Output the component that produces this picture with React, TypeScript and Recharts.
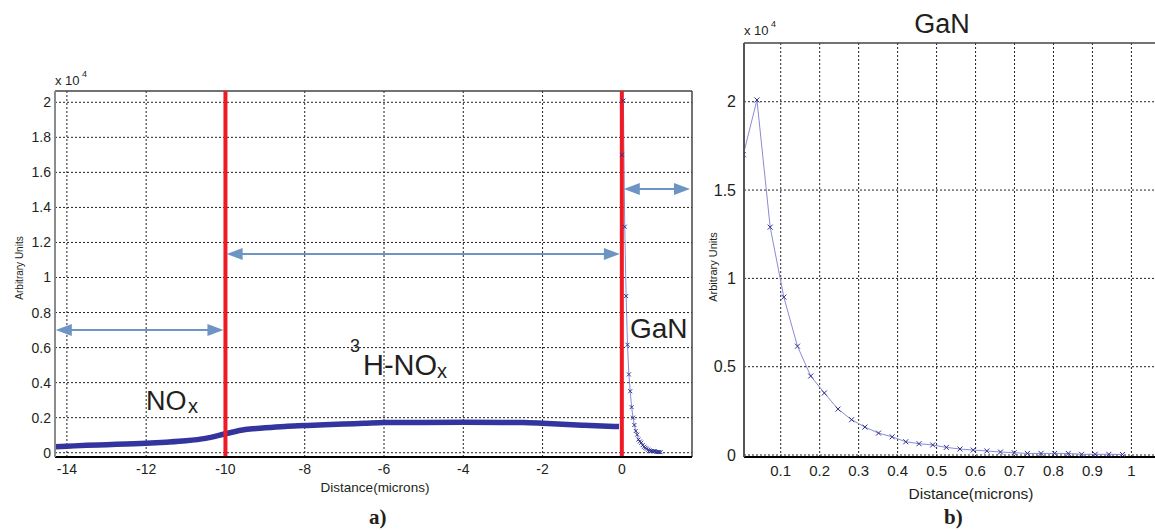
import { LineChart, Line, XAxis, YAxis, CartesianGrid, ReferenceLine } from 'recharts'

// depth profile, arbitrary units in 10^4
const bandX = [-14.3, -14, -13.5, -13, -12.5, -12, -11.5, -11, -10.5, -10, -9.5, -9, -8.5, -8, -7.5, -7, -6.5, -6, -5, -4, -3, -2.5, -2, -1.5, -1, -0.5, -0.07]
const bandY = [0.034, 0.037, 0.042, 0.046, 0.05, 0.054, 0.06, 0.068, 0.082, 0.108, 0.132, 0.142, 0.15, 0.155, 0.16, 0.164, 0.168, 0.172, 0.173, 0.174, 0.173, 0.172, 0.168, 0.163, 0.157, 0.152, 0.149]

// GaN layer, microns vs 10^4
const ganX = [0.004, 0.039, 0.073, 0.108, 0.143, 0.177, 0.212, 0.247, 0.282, 0.316, 0.351, 0.386, 0.421, 0.455, 0.49, 0.525, 0.56, 0.594, 0.629, 0.664, 0.699, 0.733, 0.768, 0.803, 0.838, 0.872, 0.907, 0.942, 0.977]
const ganY = [1.7, 2.01, 1.29, 0.894, 0.616, 0.447, 0.351, 0.26, 0.2, 0.158, 0.124, 0.103, 0.075, 0.064, 0.057, 0.043, 0.034, 0.028, 0.023, 0.017, 0.013, 0.009, 0.009, 0.009, 0.009, 0.004, 0.004, 0.004, 0.003]

const leftXTicks = [-14, -12, -10, -8, -6, -4, -2, 0]
const leftYTicks = [0, 0.2, 0.4, 0.6, 0.8, 1, 1.2, 1.4, 1.6, 1.8, 2]
const rightXTicks = [0.1, 0.2, 0.3, 0.4, 0.5, 0.6, 0.7, 0.8, 0.9, 1]
const rightYTicks = [0, 0.5, 1, 1.5, 2]

const interfaces = [-10, 0]
const arrows = [
    { x1: -14.28, x2: -10.05, y: 0.7 },
    { x1: -9.97, x2: -0.05, y: 1.134 },
    { x1: 0.05, x2: 1.72, y: 1.505 },
]

const leftXDomain = [-14.3, 1.77]
const leftYDomain = [-0.0245, 2.0645]
// right panel runs past the picture's edge
const rightXDomain = [0.0058, 1.2273]
const rightYDomain = [-0.0113, 2.3326]

const band = bandX.map((x, i) => ({ x, y: bandY[i] }))
const gan = ganX.map((x, i) => ({ x, y: ganY[i] }))

const FONT = '"Liberation Sans", Arial, sans-serif'
const INK = '#231f20'
const ARROW = '#6c94c4'
const GRID = '#222'

const arrowShape = (p: any) => {
    const { x1, y1, x2, y2 } = p
    const h = 16, w = 6
    return (
        <g>
            <line x1={x1 + h - 2} y1={y1} x2={x2 - h + 2} y2={y2} stroke={ARROW} strokeWidth={2} />
            <polygon points={`${x1},${y1} ${x1 + h},${y1 - w} ${x1 + h},${y1 + w}`} fill={ARROW} />
            <polygon points={`${x2},${y2} ${x2 - h},${y2 - w} ${x2 - h},${y2 + w}`} fill={ARROW} />
        </g>
    )
}

const cross = (size: number) => (p: any) => {
    const { cx, cy, index } = p
    if (cx == null || cy == null) return <g key={index} />
    const s = size
    return (
        <path key={index} d={`M${cx - s},${cy - s}L${cx + s},${cy + s}M${cx + s},${cy - s}L${cx - s},${cy + s}`}
            stroke="#2e3192" strokeWidth={1} fill="none" />
    )
}

function LeftChart() {
    const tick = { fill: INK, fontSize: 14, fontFamily: FONT }
    return (
        <LineChart width={700} height={530} margin={{ top: 91, right: 8, bottom: 37, left: 0 }}>
            <CartesianGrid stroke={GRID} strokeDasharray="2 2" syncWithTicks />
            <XAxis dataKey="x" type="number" domain={leftXDomain} ticks={leftXTicks} allowDataOverflow
                height={36} tickSize={0} tickMargin={7} tick={tick}
                axisLine={{ stroke: '#000', strokeWidth: 2 }} />
            <YAxis type="number" domain={leftYDomain} ticks={leftYTicks} allowDataOverflow
                width={55} tickSize={0} tickMargin={4} tick={tick}
                axisLine={{ stroke: '#8c8c8c', strokeWidth: 2 }} />
            <ReferenceLine y={leftYDomain[1]} stroke="#444" strokeWidth={1.5} />
            <ReferenceLine x={leftXDomain[1]} stroke="#444" strokeWidth={1.5} />
            <Line data={band} dataKey="y" type="monotone" stroke="#34349e" strokeWidth={5.5}
                dot={false} isAnimationActive={false} />
            <Line data={gan} dataKey="y" type="linear" stroke="#8a8ad6" strokeWidth={1}
                dot={cross(2)} isAnimationActive={false} />
            {interfaces.map(x => (
                <ReferenceLine key={x} x={x} stroke="#ed1c24" strokeWidth={4} />
            ))}
            {arrows.map((a, i) => (
                <ReferenceLine key={i} ifOverflow="visible"
                    segment={[{ x: a.x1, y: a.y }, { x: a.x2, y: a.y }]} shape={arrowShape} />
            ))}
        </LineChart>
    )
}

function RightChart() {
    return (
        <LineChart width={520} height={530} margin={{ top: 43, right: 0, bottom: 37, left: 0 }}>
            <CartesianGrid stroke={GRID} strokeDasharray="2 2" syncWithTicks />
            <XAxis dataKey="x" type="number" domain={rightXDomain} ticks={rightXTicks} allowDataOverflow
                height={36} tickSize={0} tickMargin={8} tick={{ fill: INK, fontSize: 15, fontFamily: FONT }}
                axisLine={{ stroke: '#000', strokeWidth: 2 }} />
            <YAxis type="number" domain={rightYDomain} ticks={rightYTicks} allowDataOverflow
                width={44} tickSize={0} tickMargin={8} tick={{ fill: INK, fontSize: 16, fontFamily: FONT }}
                axisLine={{ stroke: '#555', strokeWidth: 2 }} />
            <ReferenceLine y={rightYDomain[1]} stroke="#444" strokeWidth={1.5} />
            <Line data={gan} dataKey="y" type="linear" stroke="#8a8ad6" strokeWidth={1}
                dot={cross(2.5)} isAnimationActive={false} />
        </LineChart>
    )
}

export default function App() {
    return (
        <div style={{ position: 'absolute', left: 0, top: 0, width: 1155, height: 530, background: '#fff', overflow: 'hidden' }}>
            <div style={{ position: 'absolute', left: 0, top: 0 }}><LeftChart /></div>
            <div style={{ position: 'absolute', left: 700, top: 0 }}><RightChart /></div>
            <svg width={1155} height={530} style={{ position: 'absolute', left: 0, top: 0, pointerEvents: 'none' }}
                fontFamily={FONT} fill={INK}>
                <text x={55} y={85} fontSize={13}>x 10</text>
                <text x={82} y={77} fontSize={9}>4</text>
                <text x={744} y={35} fontSize={13}>x 10</text>
                <text x={771} y={27} fontSize={9}>4</text>
                <text x={942} y={33} fontSize={27} textAnchor="middle">GaN</text>
                <text transform="translate(20,268) rotate(-90)" fontSize={10} textAnchor="middle" dominantBaseline="middle">Arbitrary Units</text>
                <text transform="translate(714,267) rotate(-90)" fontSize={11} textAnchor="middle" dominantBaseline="middle">Arbitrary Units</text>
                <text x={375} y={492} fontSize={13.5} textAnchor="middle">Distance(microns)</text>
                <text x={971} y={499} fontSize={15.5} textAnchor="middle">Distance(microns)</text>
                <text x={146} y={410} fontSize={27}>NO</text>
                <text x={188} y={413} fontSize={20}>x</text>
                <text x={350} y={352} fontSize={18}>3</text>
                <text x={363} y={375} fontSize={29}>H-NO</text>
                <text x={437} y={378} fontSize={20}>x</text>
                <text x={630} y={338} fontSize={28}>GaN</text>
                <text x={369} y={524} fontSize={21} fontWeight="bold" fontFamily='"Liberation Serif", serif'>a)</text>
                <text x={944} y={524} fontSize={21} fontWeight="bold" fontFamily='"Liberation Serif", serif'>b)</text>
            </svg>
        </div>
    )
}
